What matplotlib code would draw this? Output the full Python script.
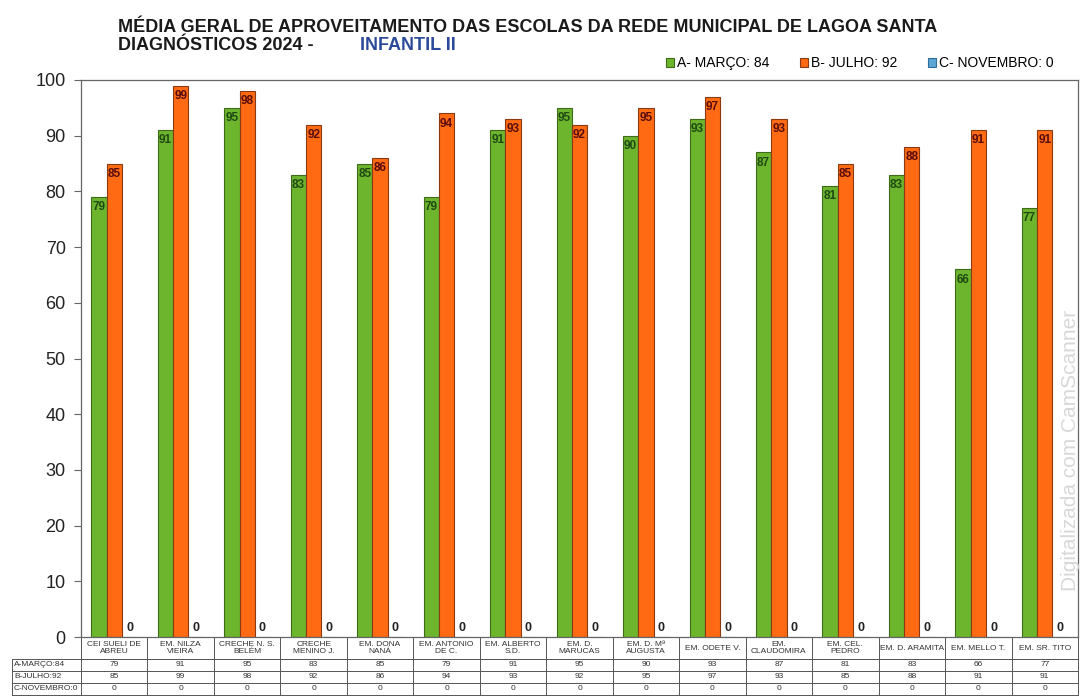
import numpy as np
import matplotlib.pyplot as plt
from matplotlib.lines import Line2D

plt.rcParams['font.family'] = ['Liberation Sans', 'DejaVu Sans']

escolas = ['CEI SUELI DE\nABREU', 'EM. NILZA\nVIEIRA', 'CRECHE N. S.\nBELÉM',
           'CRECHE\nMENINO J.', 'EM. DONA\nNANÁ', 'EM. ANTONIO\nDE C.',
           'EM. ALBERTO\nS.D.', 'EM. D.\nMARUCAS', 'EM. D. Mª\nAUGUSTA',
           'EM. ODETE V.', 'EM.\nCLAUDOMIRA', 'EM. CEL.\nPEDRO',
           'EM. D. ARAMITA', 'EM. MELLO T.', 'EM. SR. TITO']
marco = [79, 91, 95, 83, 85, 79, 91, 95, 90, 93, 87, 81, 83, 66, 77]
julho = [85, 99, 98, 92, 86, 94, 93, 92, 95, 97, 93, 85, 88, 91, 91]
novembro = [0] * 15
series_nomes = ['A- MARÇO: 84', 'B- JULHO: 92', 'C- NOVEMBRO: 0']
linhas_tabela = ['A-MARÇO:84', 'B-JULHO:92', 'C-NOVEMBRO:0']

verde = '#6cb52c'
laranja = '#ff6a12'
azul = '#5aa6d6'

fig = plt.figure(figsize=(10.84, 6.98), dpi=100)
W, H = 1084, 698
ax_l, ax_r, ax_t, ax_b = 81, 1078, 80, 637
ax = fig.add_axes([ax_l / W, 1 - ax_b / H, (ax_r - ax_l) / W, (ax_b - ax_t) / H])

x = np.arange(len(escolas))
w = 0.23
b1 = ax.bar(x - w, marco, w, color=verde, edgecolor='#3f6a1c', linewidth=0.8, label=series_nomes[0])
b2 = ax.bar(x, julho, w, color=laranja, edgecolor='#8a3a12', linewidth=0.8, label=series_nomes[1])
b3 = ax.bar(x + w, novembro, w, color=azul, edgecolor='#2f6f9a', linewidth=0.8, label=series_nomes[2])

for rect, v in zip(b1, marco):
    ax.annotate(str(v), (rect.get_x() + rect.get_width() / 2, v), xytext=(0, -3),
                textcoords='offset points', ha='center', va='top',
                fontsize=8.5, fontweight='bold', color='#1f4a14')
for rect, v in zip(b2, julho):
    ax.annotate(str(v), (rect.get_x() + rect.get_width() / 2, v), xytext=(0, -3),
                textcoords='offset points', ha='center', va='top',
                fontsize=8.5, fontweight='bold', color='#5a0c0c')
for rect, v in zip(b3, novembro):
    ax.annotate(str(v), (rect.get_x() + rect.get_width() / 2, v), xytext=(0, 2),
                textcoords='offset points', ha='center', va='bottom',
                fontsize=9, fontweight='bold', color='#222222')

ax.set_xlim(-0.5, len(escolas) - 0.5)
ax.set_ylim(0, 100)
ax.set_yticks(range(0, 101, 10))
ax.tick_params(axis='y', labelsize=13, length=5, color='#666666', pad=6, labelcolor='#222222')
ax.set_xticks([])
for s in ax.spines.values():
    s.set_color('#666666')
    s.set_linewidth(0.9)

# tabela de dados abaixo do grafico
ah = ax_b - ax_t
aw = ax_r - ax_l
bounds_px = [0, 22, 34, 46, 58]
yb = [-p / ah for p in bounds_px]
xl = (12 - ax_l) / aw
tr = ax.transAxes
lc = '#555555'
lw = 0.7
ax.add_line(Line2D([0, 1], [yb[1], yb[1]], transform=tr, color=lc, lw=lw, clip_on=False))
for yy in yb[1:]:
    ax.add_line(Line2D([xl, 1], [yy, yy], transform=tr, color=lc, lw=lw, clip_on=False))
ax.add_line(Line2D([xl, xl], [yb[1], yb[-1]], transform=tr, color=lc, lw=lw, clip_on=False))
for i in range(len(escolas) + 1):
    xx = i / len(escolas)
    ax.add_line(Line2D([xx, xx], [yb[0], yb[-1]], transform=tr, color=lc, lw=lw, clip_on=False))

valores = [marco, julho, novembro]
for i, nome in enumerate(escolas):
    xc = (i + 0.5) / len(escolas)
    ax.text(xc, (yb[0] + yb[1]) / 2, nome, transform=tr, ha='center', va='center',
            fontsize=6, color='#333333', linespacing=1.05)
    for r in range(3):
        ax.text(xc, (yb[r + 1] + yb[r + 2]) / 2, str(valores[r][i]), transform=tr,
                ha='center', va='center', fontsize=6, color='#333333')
for r, lab in enumerate(linhas_tabela):
    ax.text(xl + 0.002, (yb[r + 1] + yb[r + 2]) / 2, lab, transform=tr,
            ha='left', va='center', fontsize=6, color='#333333')

# titulos
fig.text(118 / W, 1 - 27 / H, 'MÉDIA GERAL DE APROVEITAMENTO DAS ESCOLAS DA REDE MUNICIPAL DE LAGOA SANTA',
         fontsize=13, fontweight='bold', color='#1a1a1a', va='center', ha='left')
fig.text(118 / W, 1 - 45 / H, 'DIAGNÓSTICOS 2024 -', fontsize=13, fontweight='bold',
         color='#1a1a1a', va='center', ha='left')
fig.text(360 / W, 1 - 46 / H, 'INFANTIL II', fontsize=13, fontweight='bold',
         color='#2b4a9a', va='center', ha='left')

fig.legend(handles=[b1, b2, b3], labels=series_nomes, loc='center right',
           bbox_to_anchor=(1066 / W, 1 - 63 / H), ncol=3, frameon=False, fontsize=10,
           handlelength=0.6, handleheight=0.6, handletextpad=0.2, columnspacing=2.2)

fig.text(1070 / W, 1 - 450 / H, 'Digitalizada com CamScanner', rotation=90, fontsize=15,
         color='#d8d8d8', ha='center', va='center')

plt.savefig('out.png', dpi=100)
